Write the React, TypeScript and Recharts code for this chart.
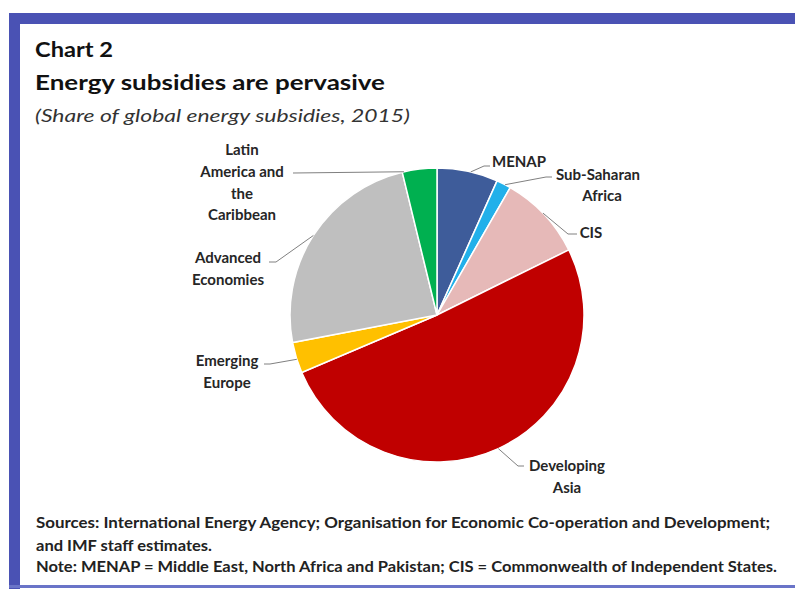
import React from 'react';
import { PieChart, Pie, Cell } from 'recharts';

const regions = [
  'MENAP',
  'Sub-Saharan Africa',
  'CIS',
  'Developing Asia',
  'Emerging Europe',
  'Advanced Economies',
  'Latin America and the Caribbean',
];
const shares = [6.7, 1.6, 9.4, 50.9, 3.4, 24.2, 3.8];
const sliceColors = ['#3e5c9a', '#22b0ea', '#e6b9b8', '#c00000', '#ffc000', '#bfbfbf', '#00b050'];

const labelLines: Record<string, string[]> = {
  'MENAP': ['MENAP'],
  'Sub-Saharan Africa': ['Sub-Saharan', 'Africa'],
  'CIS': ['CIS'],
  'Developing Asia': ['Developing', 'Asia'],
  'Emerging Europe': ['Emerging', 'Europe'],
  'Advanced Economies': ['Advanced', 'Economies'],
  'Latin America and the Caribbean': ['Latin', 'America and', 'the', 'Caribbean'],
};

const data = regions.map((name, i) => ({ name, value: shares[i] }));

// label layout (offsets relative to pie centre)
type Layout = { tx: number; ty: number[]; pts: [number, number][]; t: number; dxs?: number[] };
const CX = 437;
const CY = 315;
const R = 147;
const layout: Record<string, Layout> = {
  'MENAP': { tx: 519 - CX, ty: [167 - CY], pts: [[484 - CX, 166 - CY], [490 - CX, 166 - CY]], t: 0.55 },
  'Sub-Saharan Africa': { tx: 598 - CX, ty: [180 - CY, 201 - CY], dxs: [0, 4], pts: [[546 - CX, 177 - CY], [552 - CX, 177 - CY]], t: 0.6 },
  'CIS': { tx: 591 - CX, ty: [238 - CY], pts: [[568 - CX, 234 - CY], [577 - CX, 234 - CY]], t: 0.48 },
  'Developing Asia': { tx: 567 - CX, ty: [471 - CY, 493 - CY], pts: [[518 - CX, 466 - CY], [524 - CX, 466 - CY]], t: 0.5 },
  'Emerging Europe': { tx: 227 - CX, ty: [366 - CY, 388 - CY], pts: [[270 - CX, 364 - CY], [264 - CX, 364 - CY]], t: 0.45 },
  'Advanced Economies': { tx: 228 - CX, ty: [263 - CY, 285 - CY], pts: [[276 - CX, 262 - CY], [269 - CX, 262 - CY]], t: 0.5 },
  'Latin America and the Caribbean': { tx: 242 - CX, ty: [155 - CY, 177 - CY, 199 - CY, 220 - CY], pts: [[293 - CX, 173 - CY]], t: 0.05 },
};

const RAD = Math.PI / 180;
const FONT = 'Lato, "Open Sans", sans-serif';

const renderLabel = (props: any) => {
  const { cx, cy, outerRadius, startAngle, endAngle, name } = props;
  const lay = layout[name];
  if (!lay) return null;
  const a = startAngle + lay.t * (endAngle - startAngle);
  const ax = cx + outerRadius * Math.cos(-a * RAD);
  const ay = cy + outerRadius * Math.sin(-a * RAD);
  const pts = [[ax, ay], ...lay.pts.map(([dx, dy]) => [cx + dx, cy + dy])];
  const lines = labelLines[name];
  return (
    <g>
      <polyline
        points={pts.map((p) => p.join(',')).join(' ')}
        fill="none"
        stroke="#808080"
        strokeWidth={1}
      />
      {lines.map((ln, i) => (
        <text
          key={i}
          x={cx + lay.tx + (lay.dxs ? lay.dxs[i] : 0)}
          y={cy + lay.ty[i]}
          textAnchor="middle"
          fontFamily={FONT}
          fontWeight={700}
          fontSize={15}
          fill="#262626"
        >
          {ln}
        </text>
      ))}
    </g>
  );
};

export default function App() {
  return (
    <div style={{ position: 'absolute', left: 0, top: 0, width: 795, height: 590, background: '#fff', overflow: 'hidden' }}>
      <svg width={795} height={590} style={{ position: 'absolute', left: 0, top: 0 }}>
        <rect x={0} y={0} width={795} height={590} fill="#fff" />
        <rect x={9} y={13} width={786} height={11} fill="#4a52b4" />
        <rect x={9} y={13} width={11} height={576} fill="#4a52b4" />
        <rect x={9} y={585} width={786} height={3} fill="#6a74c8" />
        <text x={35} y={57} fontFamily={FONT} fontWeight={700} fontSize={21} fill="#111" textLength={78} lengthAdjust="spacingAndGlyphs">Chart 2</text>
        <text x={35} y={90} fontFamily={FONT} fontWeight={700} fontSize={21} fill="#111" textLength={350} lengthAdjust="spacingAndGlyphs">Energy subsidies are pervasive</text>
        <text x={35} y={122} fontFamily={FONT} fontStyle="italic" fontSize={18} fill="#333" textLength={375} lengthAdjust="spacingAndGlyphs">(Share of global energy subsidies, 2015)</text>
        <text x={36} y={528} fontFamily={FONT} fontWeight={700} fontSize={14.5} fill="#222" textLength={734} lengthAdjust="spacingAndGlyphs">Sources: International Energy Agency; Organisation for Economic Co-operation and Development;</text>
        <text x={36} y={551} fontFamily={FONT} fontWeight={700} fontSize={14.5} fill="#222" textLength={176} lengthAdjust="spacingAndGlyphs">and IMF staff estimates.</text>
        <text x={36} y={572} fontFamily={FONT} fontWeight={700} fontSize={14.5} fill="#222" textLength={741} lengthAdjust="spacingAndGlyphs">Note: MENAP = Middle East, North Africa and Pakistan; CIS = Commonwealth of Independent States.</text>
      </svg>
      <div style={{ position: 'absolute', left: 0, top: 0 }}>
        <PieChart width={795} height={590} margin={{ top: 0, right: 0, bottom: 0, left: 0 }}>
          <Pie
            data={data}
            dataKey="value"
            nameKey="name"
            cx={CX}
            cy={CY}
            outerRadius={R}
            startAngle={90}
            endAngle={-270}
            stroke="#ffffff"
            strokeWidth={1.5}
            label={renderLabel}
            labelLine={false}
            isAnimationActive={false}
          >
            {data.map((d, i) => (
              <Cell key={d.name} fill={sliceColors[i]} />
            ))}
          </Pie>
        </PieChart>
      </div>
    </div>
  );
}
